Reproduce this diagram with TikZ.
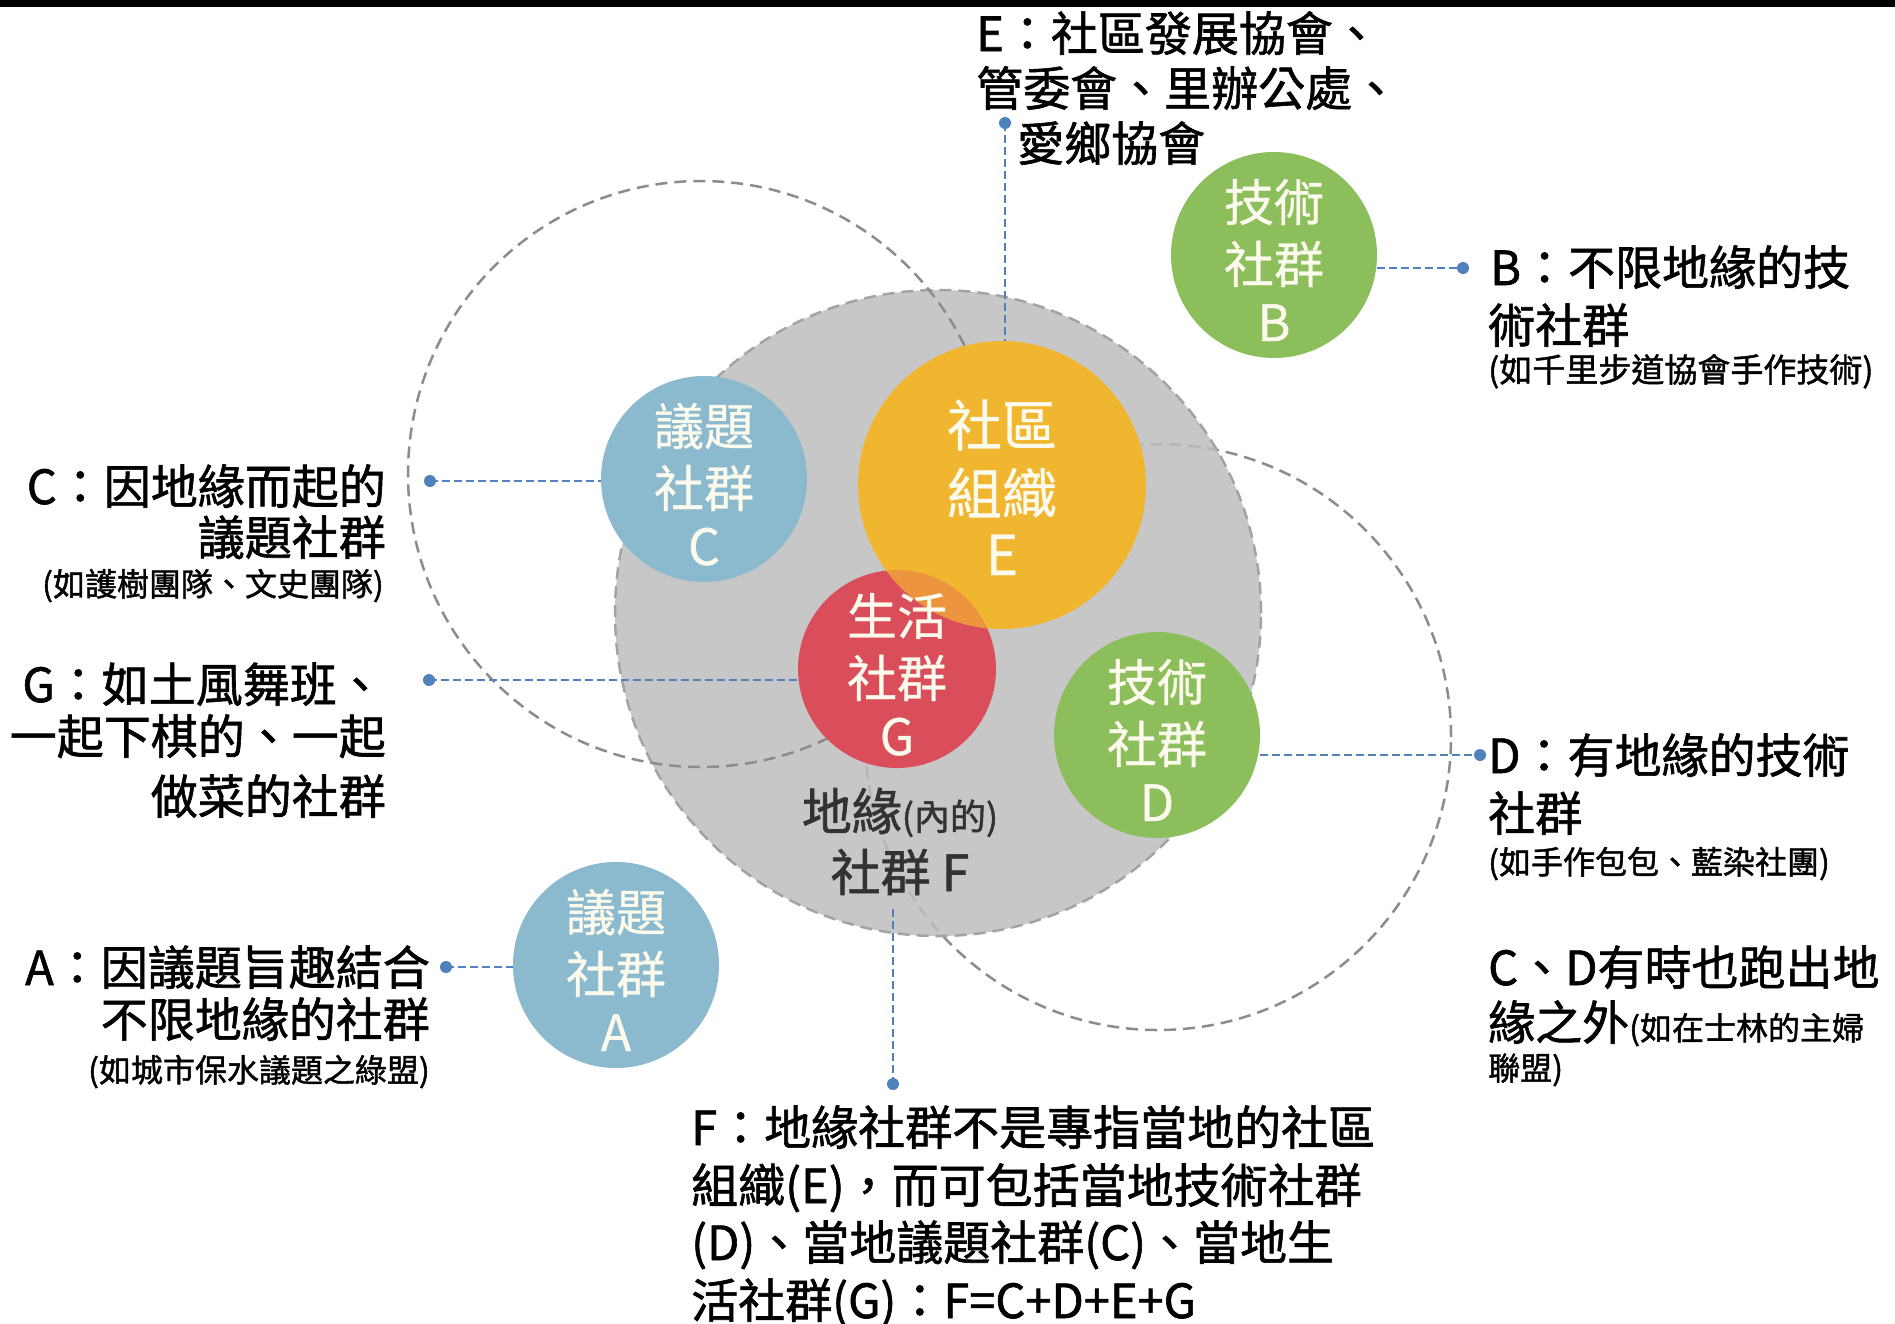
\documentclass[tikz,border=0pt]{standalone}
\usepackage{fontspec}
\setmainfont{Noto Sans CJK TC}[FakeBold=0.6]
\newfontfamily\lblfont{Noto Sans CJK TC}[FakeBold=1.3]
\definecolor{cblue}{RGB}{139,185,205}
\definecolor{cyellow}{RGB}{241,182,48}
\definecolor{cred}{RGB}{217,78,90}
\definecolor{cgreen}{RGB}{141,190,92}
\definecolor{coverlap}{RGB}{236,148,62}
\definecolor{cgray}{RGB}{190,190,190}
\definecolor{ringgray}{RGB}{140,140,140}
\definecolor{connblue}{RGB}{79,129,189}
\definecolor{ctext}{RGB}{252,250,236}
\definecolor{ftext}{RGB}{50,50,50}
\newcommand\mycirtext[6]{%
  \node[ctx] (#1a) at (#2,#3-34) {#4};
  \node[ctx] (#1b) at (#2,#3+28) {#5};
  \node[ctx] (#1c) at (#2,#3+86) {#6};}
\begin{document}
\begin{tikzpicture}[x=1pt,y=-1pt,
  ring/.style={circle, draw=ringgray, line width=2.5pt, dash pattern=on 12pt off 7pt, inner sep=0pt},
  disc/.style={circle, inner sep=0pt, draw=none},
  conn/.style={draw=connblue, line width=2.6pt, dash pattern=on 8pt off 4pt},
  lbl/.style={font=\lblfont\fontsize{47}{56}\selectfont, inner sep=0pt, text=black},
  lbls/.style={font=\lblfont\fontsize{32}{38}\selectfont, inner sep=0pt, text=black},
  ctx/.style={font=\fontsize{50}{60}\selectfont, inner sep=0pt, text=ctext, anchor=base},
  ctxE/.style={font=\fontsize{55}{66}\selectfont, inner sep=0pt, text=ctext, anchor=base},
  ftx/.style={font=\lblfont\fontsize{50}{60}\selectfont, inner sep=0pt, text=ftext, anchor=base},
]
\useasboundingbox (0,0) rectangle (1895,1323);
\fill[white] (0,0) rectangle (1895,1323);
\fill[black] (0,0) rectangle (1895,7);

% rings and the gray F disc
\node[ring, minimum size=586] (Rring) at (1158,737) {};
\node[disc, fill=cgray, fill opacity=0.85, minimum size=646] (Fdisc) at (938,613) {};
\node[ring, draw=ringgray!80, minimum size=646] (Fring) at (938,613) {};
\node[ring, minimum size=586] (Lring) at (701,474) {};

% coloured discs
\node[disc, fill=cred, minimum size=198] (Gcirc) at (897,669) {};
\node[disc, fill=cyellow, minimum size=288] (Ecirc) at (1002,485) {};
\begin{scope}
  \clip (Ecirc.center) circle[radius=144];
  \fill[coverlap] (Gcirc.center) circle[radius=99];
\end{scope}
\node[disc, fill=cblue, minimum size=206] (Ccirc) at (704,479) {};
\node[disc, fill=cblue, minimum size=206] (Acirc) at (616,965) {};
\node[disc, fill=cgreen, minimum size=206] (Bcirc) at (1274,255) {};
\node[disc, fill=cgreen, minimum size=206] (Dcirc) at (1157,735) {};

% texts in discs
\mycirtext{tC}{704}{479}{議題}{社群}{C}
\mycirtext{tA}{616}{965}{議題}{社群}{A}
\mycirtext{tB}{1274}{255}{技術}{社群}{B}
\mycirtext{tD}{1157}{735}{技術}{社群}{D}
\mycirtext{tG}{897}{669}{生活}{社群}{G}
\node[ctxE] (tEa) at (1002,446) {社區};
\node[ctxE] (tEb) at (1002,514) {組織};
\node[ctxE] (tEc) at (1002,575) {E};

\node[ftx] (Fg1) at (900,830) {地緣{\fontsize{36}{40}\selectfont(內的)}};
\node[ftx] (Fg2) at (900,891) {社群 F};

% labels
\node[lbl, anchor=base west] (Elab1) at (976,51) {E：社區發展協會、};
\node[lbl, anchor=base west] (Elab2) at (976,106) {管委會、里辦公處、};
\node[lbl, anchor=base west] (Elab3) at (1017,161) {愛鄉協會};

\node[lbl, anchor=base west] (Blab1) at (1490,285) {B：不限地緣的技};
\node[lbl, anchor=base west] (Blab2) at (1488,343) {術社群};
\node[lbls, font=\lblfont\fontsize{33}{38}\selectfont, anchor=base west] (Blab3) at (1488,382) {(如千里步道協會手作技術)};

\node[lbl, anchor=base east] (Clab1) at (386,504) {C：因地緣而起的};
\node[lbl, anchor=base east] (Clab2) at (386,555) {議題社群};
\node[lbls, anchor=base east] (Clab3) at (384,596) {(如護樹團隊、文史團隊)};

\node[lbl, anchor=base east] (Glab1) at (384,702) {G：如土風舞班、};
\node[lbl, anchor=base east] (Glab2) at (386,754) {一起下棋的、一起};
\node[lbl, anchor=base east] (Glab3) at (386,814) {做菜的社群};

\node[lbl, anchor=base east] (Alab1) at (430,985) {A：因議題旨趣結合};
\node[lbl, anchor=base east] (Alab2) at (430,1037) {不限地緣的社群};
\node[lbls, anchor=base east] (Alab3) at (430,1082) {(如城市保水議題之綠盟)};

\node[lbl, anchor=base west] (Dlab1) at (1488,773) {D：有地緣的技術};
\node[lbl, anchor=base west] (Dlab2) at (1488,831) {社群};
\node[lbls, anchor=base west] (Dlab3) at (1488,874) {(如手作包包、藍染社團)};

\node[lbl, anchor=base west] (CDlab1) at (1488,985) {C、D有時也跑出地};
\node[lbl, anchor=base west] (CDlab2) at (1488,1040) {緣之外{\fontsize{32}{38}\selectfont(如在士林的主婦}};
\node[lbls, anchor=base west] (CDlab3) at (1488,1080) {聯盟)};

\node[lbl, anchor=base west] (Flab1) at (691,1145) {F：地緣社群不是專指當地的社區};
\node[lbl, anchor=base west] (Flab2) at (691,1203) {組織(E)，而可包括當地技術社群};
\node[lbl, anchor=base west] (Flab3) at (691,1260) {(D)、當地議題社群(C)、當地生};
\node[lbl, anchor=base west] (Flab4) at (691,1318) {活社群(G)：F=C+D+E+G};

% connectors
\coordinate (Edot) at (1005,123);
\coordinate (Bdot) at (1463,268);
\coordinate (Cdot) at (430,481);
\coordinate (Gdot) at (429,680);
\coordinate (Adot) at (446,967);
\coordinate (Ddot) at (1480,755);
\coordinate (Fdot) at (893,1084);

\draw[conn] (Edot) -- (Edot |- Ecirc.north);
\draw[conn] (Bcirc.east |- Bdot) -- (Bdot);
\draw[conn] (Cdot) -- (Cdot -| Ccirc.west);
\draw[conn] (Gdot) -- (Gdot -| Gcirc.west);
\draw[conn] (Adot) -- (Adot -| Acirc.west);
\draw[conn] (Dcirc.east |- Ddot) -- (Ddot);
\draw[conn] (Fdot |- Fg2.south) ++(0,14) -- (Fdot);

\foreach \d in {Edot,Bdot,Cdot,Gdot,Adot,Ddot,Fdot}
  \fill[connblue] (\d) circle[radius=6];
\end{tikzpicture}
\end{document}
